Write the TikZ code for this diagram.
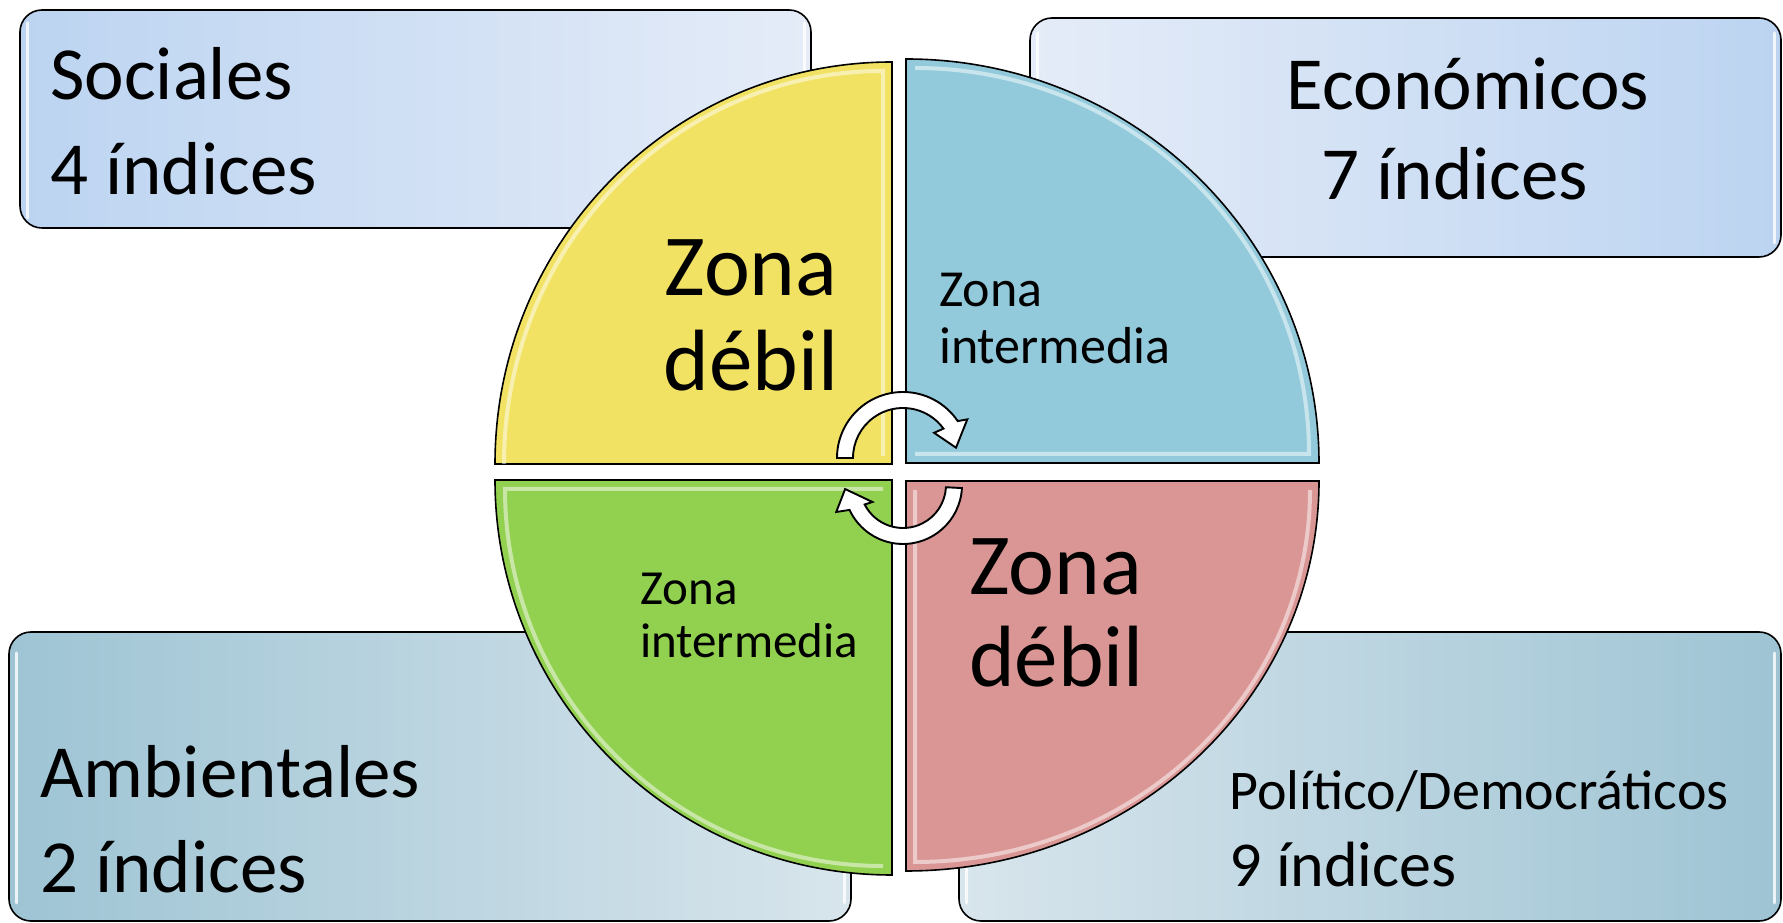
\documentclass[tikz,border=0pt]{standalone}
\usepackage{fontspec}
\setmainfont{Carlito}
\definecolor{qyel}{RGB}{242,226,100}
\definecolor{qblu}{RGB}{146,202,219}
\definecolor{qgrn}{RGB}{146,208,80}
\definecolor{qred}{RGB}{217,150,148}
\definecolor{bxA}{RGB}{188,212,241}
\definecolor{bxB}{RGB}{229,236,248}
\definecolor{bxC}{RGB}{158,196,212}
\definecolor{bxD}{RGB}{216,229,236}
\begin{document}
\begin{tikzpicture}[x=1pt,y=1pt,
  panel/.style={draw=black, line width=1.6pt, rounded corners=22pt},
  quad/.style={draw=black, line width=1.6pt, line join=miter},
  bevel/.style={white, opacity=0.5, line width=4pt},
  glint/.style={white, opacity=0.8, line width=3pt, line cap=round},
  arrowband/.style={draw=black, fill=white, line width=1.9pt, line join=miter},
  boxlbl/.style={inner sep=0pt, font=\fontsize{75}{90}\selectfont},
  biglbl/.style={inner sep=0pt, font=\fontsize{87}{104}\selectfont},
  polbl/.style={inner sep=0pt, font=\fontsize{56}{67}\selectfont},
  polnum/.style={inner sep=0pt, font=\fontsize{64}{77}\selectfont},
  bluesmall/.style={inner sep=0pt, font=\fontsize{52}{62}\selectfont},
  grnsmall/.style={inner sep=0pt, font=\fontsize{49}{59}\selectfont}
]
\useasboundingbox (0,0) rectangle (1783,923);
\fill[white] (0,0) rectangle (1783,923);

% corner panels
\path[panel, left color=bxA, right color=bxB] (20,695) rectangle (811,913);
\path[panel, left color=bxB, right color=bxA] (1030,666) rectangle (1781,905);
\path[panel, left color=bxC, right color=bxD] (9,2) rectangle (851,291);
\path[panel, left color=bxD, right color=bxC] (959,2) rectangle (1781,291);
\draw[glint] (27,705) -- (27,900);
\draw[glint] (804,705) -- (804,900);
\draw[glint] (1037,680) -- (1037,890);
\draw[glint] (1774,680) -- (1774,890);
\draw[glint] (16,20) -- (16,270);
\draw[glint] (844,20) -- (844,270);
\draw[glint] (966,20) -- (966,270);
\draw[glint] (1774,20) -- (1774,270);

% quadrants
\path[quad, fill=qyel] (892,459) -- (892,861) arc[start angle=90, end angle=180, x radius=397pt, y radius=402pt] -- cycle;
\path[quad, fill=qblu] (906,460) -- (1319,460) arc[start angle=0, end angle=90, x radius=413pt, y radius=404pt] -- cycle;
\path[quad, fill=qgrn] (892,443) -- (495,443) arc[start angle=180, end angle=270, x radius=397pt, y radius=395pt] -- cycle;
\path[quad, fill=qred] (906,442) -- (906,52) arc[start angle=270, end angle=360, x radius=413pt, y radius=390pt] -- cycle;

% bevel highlights
\draw[bevel] (883,467) -- (883,852) arc[start angle=90, end angle=180, x radius=379pt, y radius=393pt];
\draw[bevel] (915,469) -- (1309,469) arc[start angle=0, end angle=90, x radius=394pt, y radius=386pt];
\draw[bevel] (883,434) -- (505,434) arc[start angle=180, end angle=270, x radius=378pt, y radius=377pt];
\draw[bevel] (915,433) -- (915,61) arc[start angle=270, end angle=360, x radius=395pt, y radius=372pt];

% circular arrows
\begin{scope}[shift={(903,465)}]
  \draw[arrowband] (180:66pt) arc[start angle=180, end angle=34, radius=66pt]
    -- (31:75pt) -- (11:54pt) -- (39:40pt) -- (36:50pt)
    arc[start angle=36, end angle=180, radius=50pt] -- cycle;
\end{scope}
\begin{scope}[shift={(903,438)}]
  \draw[arrowband] (-3:59pt) arc[start angle=-3, end angle=-155, radius=59pt]
    -- (-158:72pt) -- (-176:58pt) -- (-151:35pt) -- (-153:43pt)
    arc[start angle=-153, end angle=-3, radius=43pt] -- cycle;
\end{scope}

% panel labels
\node[boxlbl, anchor=base west] (soc1) at (50,823) {Sociales};
\node[boxlbl, anchor=base west] (soc2) at (50,728) {4 índices};
\node[boxlbl, anchor=base] (eco1) at (1468,813) {Económicos};
\node[boxlbl, anchor=base] (eco2) at (1455,723) {7 índices};
\node[boxlbl, anchor=base west] (amb1) at (40,125) {Ambientales};
\node[boxlbl, anchor=base west] (amb2) at (40,30) {2 índices};
\node[polbl, anchor=base west] (pol1) at (1229,113) {Político/Democráticos};
\node[polnum, anchor=base west] (pol2) at (1229,36) {9 índices};

% quadrant labels
\node[biglbl, anchor=base] (ya) at (751,627) {Zona};
\node[biglbl, anchor=base] (yb) at (751,532) {débil};
\node[bluesmall, anchor=base west] (ba) at (939,616) {Zona};
\node[bluesmall, anchor=base west] (bb) at (939,559) {intermedia};
\node[grnsmall, anchor=base west] (ga) at (640,318) {Zona};
\node[grnsmall, anchor=base west] (gb) at (640,265) {intermedia};
\node[biglbl, anchor=base west] (ra) at (969,328) {Zona};
\node[biglbl, anchor=base west] (rb) at (969,236) {débil};
\end{tikzpicture}
\end{document}
